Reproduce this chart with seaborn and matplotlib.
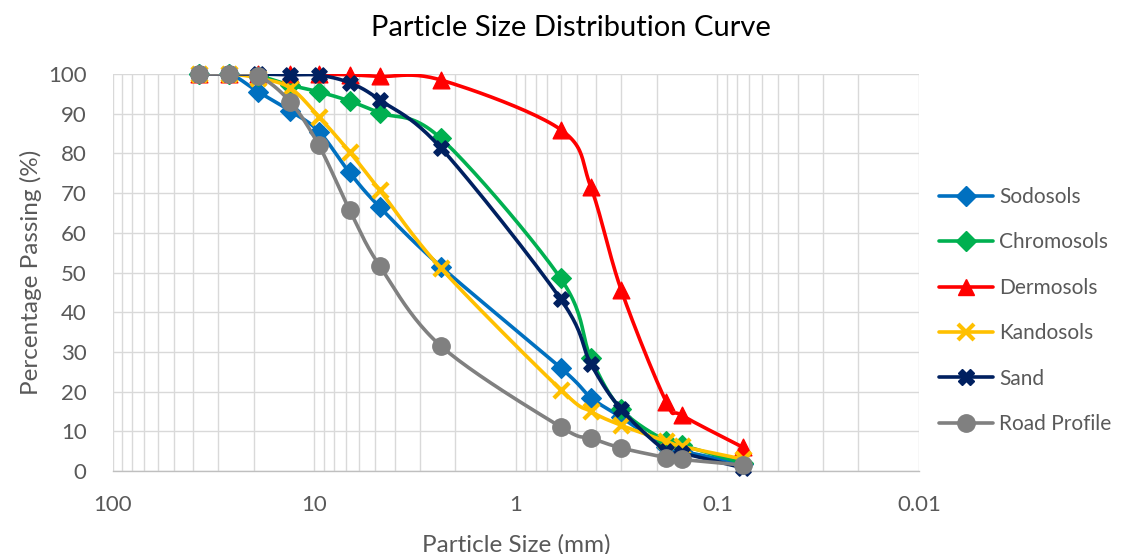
import numpy as np
import pandas as pd
import matplotlib
matplotlib.use("Agg")
import matplotlib.pyplot as plt
from matplotlib.lines import Line2D
from matplotlib.ticker import FixedLocator, FixedFormatter, LogLocator, NullFormatter
import seaborn as sns

# ---------------- data ----------------
sizes = [37.5, 26.5, 19.0, 13.2, 9.5, 6.7, 4.75, 2.36, 0.6, 0.425, 0.3, 0.18, 0.15, 0.075]
sodosols = [100, 100, 95.5, 90.7, 85.5, 75.2, 66.5, 51.5, 26.0, 18.5, 13.5, 6.0, 5.0, 1.8]
chromosols = [100, 100, 99.5, 97.2, 95.5, 93.2, 90.2, 83.8, 48.5, 28.5, 15.5, 7.5, 6.5, 2.0]
dermosols = [100, 100, 100, 100, 100, 99.8, 99.4, 98.5, 86.0, 71.5, 45.5, 17.5, 14.0, 6.0]
kandosols = [100, 100, 99.0, 96.5, 89.2, 80.4, 70.8, 51.1, 20.5, 15.0, 11.5, 7.5, 6.2, 3.0]
sand = [100, 100, 100, 99.8, 99.7, 97.8, 93.5, 81.4, 43.3, 27.0, 15.5, 5.0, 4.5, 0.8]
road_profile = [100, 100, 99.5, 93.0, 82.0, 65.8, 51.7, 31.5, 11.1, 8.3, 5.8, 3.4, 2.9, 1.5]

series_names = ["Sodosols", "Chromosols", "Dermosols", "Kandosols", "Sand", "Road Profile"]
series_values = [sodosols, chromosols, dermosols, kandosols, sand, road_profile]
x_tick_values = [100, 10, 1, 0.1, 0.01]
x_tick_labels = ["100", "10", "1", "0.1", "0.01"]
y_ticks = list(range(0, 101, 10))

colors = ["#0070C0", "#00B050", "#FF0000", "#FFC000", "#002060", "#808080"]
markers = ["D", "D", "^", "x", "X", "o"]
msizes = [10, 10, 12, 11, 11, 12.5]


def smooth(xs, ys, n=24):
    """Excel-like smoothed line (Catmull-Rom Bezier) in log-x / linear-y space."""
    lx = np.log10(np.asarray(xs, float))
    y = np.asarray(ys, float)
    P = np.column_stack([lx, y])
    out = []
    for i in range(len(P) - 1):
        p0 = P[i - 1] if i > 0 else P[i]
        p1, p2 = P[i], P[i + 1]
        p3 = P[i + 2] if i + 2 < len(P) else P[i + 1]
        b1 = p1 + (p2 - p0) / 6.0
        b2 = p2 - (p3 - p1) / 6.0
        t = np.linspace(0, 1, n, endpoint=(i == len(P) - 2))[:, None]
        pts = ((1 - t) ** 3) * p1 + 3 * ((1 - t) ** 2) * t * b1 + 3 * (1 - t) * t ** 2 * b2 + t ** 3 * p2
        out.append(pts)
    pts = np.vstack(out)
    return 10 ** pts[:, 0], pts[:, 1]


sns.set_theme(style="white")
plt.rcParams["font.family"] = ["Lato", "DejaVu Sans"]

fig = plt.figure(figsize=(11.24, 5.54), dpi=100)
ax = fig.add_axes([0.1005, 0.1498, 0.8176 - 0.1005, 0.8664 - 0.1498])

handles = []
for k, (name, vals) in enumerate(zip(series_names, series_values)):
    sx, sy = smooth(sizes, vals)
    dfl = pd.DataFrame({"x": sx, "y": sy})
    sns.lineplot(data=dfl, x="x", y="y", ax=ax, color=colors[k], lw=2.6,
                 sort=False, estimator=None, zorder=3 + 2 * k)
    dfm = pd.DataFrame({"x": sizes, "y": vals})
    if markers[k] == "x":
        sns.scatterplot(data=dfm, x="x", y="y", ax=ax, color=colors[k], marker="x",
                        s=msizes[k] ** 2, linewidth=3, zorder=4 + 2 * k, clip_on=False)
    else:
        sns.scatterplot(data=dfm, x="x", y="y", ax=ax, color=colors[k], marker=markers[k],
                        s=msizes[k] ** 2, edgecolor=colors[k], linewidth=1, zorder=4 + 2 * k,
                        clip_on=False)
    if markers[k] == "x":
        h = Line2D([], [], color=colors[k], lw=2.6, marker="x", ms=msizes[k], mew=3)
    else:
        h = Line2D([], [], color=colors[k], lw=2.6, marker=markers[k], ms=msizes[k],
                   mfc=colors[k], mec=colors[k])
    handles.append(h)

ax.set_xscale("log")
ax.set_xlim(100, 0.01)
ax.set_ylim(0, 100)
ax.xaxis.set_major_locator(FixedLocator(x_tick_values))
ax.xaxis.set_major_formatter(FixedFormatter(x_tick_labels))
ax.xaxis.set_minor_locator(LogLocator(base=10, subs=np.arange(2, 10)))
ax.xaxis.set_minor_formatter(NullFormatter())
ax.set_yticks(y_ticks)

ax.grid(True, which="both", axis="both", color="#D9D9D9", lw=1.0, zorder=0)
ax.set_axisbelow(True)
for s in ["top", "right", "left"]:
    ax.spines[s].set_visible(False)
ax.spines["bottom"].set_color("#BFBFBF")
ax.spines["bottom"].set_linewidth(1.0)
ax.tick_params(axis="both", which="both", length=0, labelsize=16, labelcolor="#595959")
ax.tick_params(axis="x", pad=17)
ax.tick_params(axis="y", pad=19)

ax.set_xlabel("Particle Size (mm)", fontsize=17.5, color="#595959", labelpad=14)
ax.set_ylabel("Percentage Passing (%)", fontsize=17.5, color="#595959", labelpad=4)
fig.text(0.508, 0.949, "Particle Size Distribution Curve", fontsize=21, color="#000000",
         ha="center", va="center")

leg = fig.legend(handles, series_names, loc="center left", bbox_to_anchor=(0.8354, 0.4395),
                 frameon=False, fontsize=15, labelspacing=1.22, handlelength=2.6,
                 handletextpad=0.29, borderpad=0, borderaxespad=0, labelcolor="#595959")

fig.savefig("out.png", dpi=100)
